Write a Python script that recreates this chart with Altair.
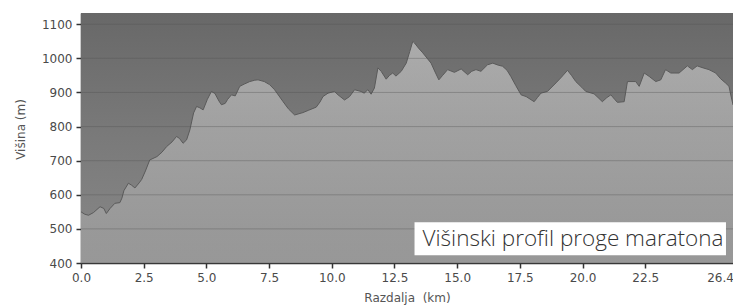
import altair as alt
import pandas as pd

km = [0.0, 0.15, 0.3, 0.5, 0.76, 0.91, 1.01, 1.16, 1.35, 1.55, 1.63, 1.71, 1.89, 2.02, 2.15, 2.32, 2.42, 2.57, 2.74,
      3.03, 3.23, 3.41, 3.63, 3.81, 3.93, 4.07, 4.21, 4.34, 4.49, 4.61, 4.74, 4.87, 5.04, 5.2, 5.34, 5.5, 5.6,
      5.75, 5.85, 6.0, 6.15, 6.33, 6.52, 6.73, 6.93, 7.06, 7.31, 7.52, 7.72, 8.06, 8.27, 8.52, 8.85, 9.08, 9.38,
      9.53, 9.65, 9.85, 10.11, 10.25, 10.51, 10.71, 10.91, 11.17, 11.29, 11.44, 11.57, 11.7, 11.84, 11.97,
      12.17, 12.3, 12.43, 12.56, 12.77, 12.97, 13.11, 13.23, 13.3, 13.46, 13.63, 13.96, 14.12, 14.27, 14.42,
      14.62, 14.89, 15.16, 15.42, 15.58, 15.75, 15.95, 16.21, 16.42, 16.64, 16.81, 16.99, 17.14, 17.34, 17.55,
      17.75, 18.07, 18.2, 18.34, 18.6, 18.94, 19.16, 19.4, 19.56, 19.73, 19.97, 20.13, 20.46, 20.62, 20.79,
      20.97, 21.13, 21.28, 21.39, 21.66, 21.79, 22.12, 22.26, 22.46, 22.66, 22.92, 23.12, 23.31, 23.52,
      23.85, 24.18, 24.38, 24.57, 24.81, 25.04, 25.31, 25.51, 25.7, 25.84, 25.92, 26.0, 26.1, 26.17, 26.28,
      26.4]
elev = [550, 543, 540, 548, 565, 560, 545, 560, 575, 577, 590, 612, 634, 628, 620, 635, 645, 670, 702,
        712, 725, 741, 755, 771, 765, 751, 761, 790, 840, 859, 855, 849, 880, 903, 897, 875, 864,
        868, 880, 893, 890, 918, 925, 932, 936, 937, 932, 923, 908, 873, 852, 834, 841, 848, 857,
        872, 888, 898, 903, 893, 878, 888, 908, 903, 898, 908, 895, 913, 972, 962,
        939, 950, 957, 948, 962, 986, 1020, 1050, 1045, 1030, 1016, 986, 960, 937, 950,
        967, 959, 969, 952, 962, 967, 962, 981, 986, 980, 977, 965, 947, 920, 893,
        888, 873, 885, 898, 903, 928, 945, 965, 950, 932, 915, 903, 896, 885, 873,
        885, 893, 880, 871, 873, 932, 932, 918, 957, 947, 932, 937, 967, 957,
        957, 978, 967, 978, 972, 967, 957, 940, 928, 918, 890, 864, 880, 898, 903,
        905]

# visible window of the (cropped) original picture
x_view = [0.0, 26.0]
y_view = [400, 1133]

x_ticks = [0.0, 2.5, 5.0, 7.5, 10.0, 12.5, 15.0, 17.5, 20.0, 22.5, x_view[1]]
x_end_label = "26.4"   # total length, printed at the right end of the axis
y_ticks = [400, 500, 600, 700, 800, 900, 1000, 1100]

label_text = ["Višinski profil proge maratona"]
box_x = [13.3]
box_x2 = [25.72]
box_y = [422.6]
box_y2 = [519.7]
text_x = [13.62]
text_y = [470]

W, H = 652, 250

df = pd.DataFrame({"km": km, "elev": elev})
box = pd.DataFrame({"x": box_x, "x2": box_x2, "y": box_y, "y2": box_y2})
txt = pd.DataFrame({"x": text_x, "y": text_y, "t": label_text})
grid_df = pd.DataFrame({"v": y_ticks})
view_df = pd.DataFrame({"x": [x_view[0]], "x2": [x_view[1]], "y": [y_view[0]], "y2": [y_view[1]]})

xscale = alt.Scale(domain=x_view, nice=False, zero=False)
yscale = alt.Scale(domain=y_view, nice=False, zero=False)

end_test = f"datum.value >= {x_view[1]}"
xaxis = alt.Axis(
    title="Razdalja\u00a0\u00a0(km)", values=x_ticks, grid=False,
    labelExpr=f"{end_test} ? '{x_end_label}' : format(datum.value, '.1f')",
    labelFont="DejaVu Sans", labelFontSize=12, labelColor="#4a4a4a",
    titleFont="DejaVu Sans", titleFontSize=12, titleColor="#555555", titleFontWeight="normal",
    domainColor="#333333", domainWidth=1.5, tickColor="#333333", tickSize=5, tickWidth=1.5,
    labelPadding=4, titlePadding=9, labelOverlap=False, labelFlush=False,
    labelOffset={"condition": {"test": end_test, "value": -13}, "value": 0},
    tickOpacity={"condition": {"test": end_test, "value": 0}, "value": 1},
)
yaxis = alt.Axis(
    title="Višina (m)", values=y_ticks, format="d", grid=False,
    labelFont="DejaVu Sans", labelFontSize=12, labelColor="#4a4a4a",
    titleFont="DejaVu Sans", titleFontSize=12, titleColor="#555555", titleFontWeight="normal",
    domainColor="#333333", domainWidth=1.5, tickColor="#333333", tickSize=5, tickWidth=1.5,
    labelPadding=4, titleX=-54, titleY=116,
)

bg = alt.Chart(view_df).mark_rect(
    color=alt.LinearGradient(
        gradient="linear", x1=0, x2=0, y1=0, y2=1,
        stops=[alt.GradientStop(color="#686868", offset=0),
               alt.GradientStop(color="#7a7a7a", offset=0.5),
               alt.GradientStop(color="#888888", offset=1)]),
).encode(
    x=alt.X("x:Q", scale=xscale, axis=xaxis), x2="x2:Q",
    y=alt.Y("y:Q", scale=yscale, axis=yaxis), y2="y2:Q",
)

area = alt.Chart(df).mark_area(
    clip=True,
    line={"color": "#5a5a5a", "strokeWidth": 1},
    color=alt.LinearGradient(
        gradient="linear", x1=0, x2=0, y1=0, y2=1,
        stops=[alt.GradientStop(color="#c6c6c6", offset=0),
               alt.GradientStop(color="#b3b3b3", offset=0.23),
               alt.GradientStop(color="#a1a1a1", offset=0.53),
               alt.GradientStop(color="#989898", offset=0.84),
               alt.GradientStop(color="#a5a5a5", offset=1)]),
).encode(
    x=alt.X("km:Q", scale=xscale, axis=xaxis),
    y=alt.Y("elev:Q", scale=yscale, axis=yaxis),
)

grid = alt.Chart(grid_df).mark_rule(color="#505050", opacity=0.35, strokeWidth=1).encode(
    y=alt.Y("v:Q", scale=yscale, axis=yaxis)
)

rect = alt.Chart(box).mark_rect(color="white", opacity=1).encode(
    x=alt.X("x:Q", scale=xscale, axis=xaxis), x2="x2:Q",
    y=alt.Y("y:Q", scale=yscale, axis=yaxis), y2="y2:Q",
)

text = alt.Chart(txt).mark_text(
    align="left", baseline="middle", font="Open Sans", fontWeight=300, fontSize=22.5, color="#333333"
).encode(
    x=alt.X("x:Q", scale=xscale, axis=xaxis),
    y=alt.Y("y:Q", scale=yscale, axis=yaxis),
    text="t:N",
)

chart = alt.layer(bg, area, grid, rect, text).properties(
    width=W, height=H, background="white",
    autosize=alt.AutoSizeParams(type="none"),
    padding={"left": 73, "top": 5, "right": 0, "bottom": 42},
).configure_view(stroke=None)

chart.save("out.html", embed_options={"renderer": "svg", "actions": False})
